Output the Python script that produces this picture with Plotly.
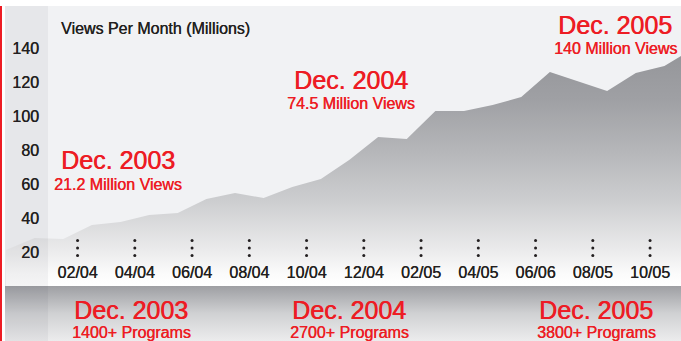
import plotly.graph_objects as go

W, H = 681, 341

# ---------------- data ----------------
months = ["2003-12", "2004-01", "2004-02", "2004-03", "2004-04", "2004-05", "2004-06",
          "2004-07", "2004-08", "2004-09", "2004-10", "2004-11", "2004-12",
          "2005-01", "2005-02", "2005-03", "2005-04", "2005-05", "2005-06",
          "2005-07", "2005-08", "2005-09", "2005-10", "2005-11", "2005-12"]
views = [21.2, 28.3, 27.7, 36.0, 37.8, 41.9, 43.1, 51.3, 54.9, 51.9, 58.4, 63.1, 74.5,
         87.9, 86.7, 103.2, 103.2, 106.8, 111.5, 126.3, 120.6, 115.0, 125.7, 129.8, 140.0]
tick_labels = ["02/04", "04/04", "06/04", "08/04", "10/04", "12/04",
               "02/05", "04/05", "06/06", "08/05", "10/05"]
y_ticks = [20, 40, 60, 80, 100, 120, 140]
view_callouts = [("Dec. 2003", "21.2 Million Views"),
                 ("Dec. 2004", "74.5 Million Views"),
                 ("Dec. 2005", "140 Million Views")]
program_callouts = [("Dec. 2003", "1400+ Programs"),
                    ("Dec. 2004", "2700+ Programs"),
                    ("Dec. 2005", "3800+ Programs")]
y_title = "Views Per Month (Millions)"

# ---------------- style / geometry ----------------
RED = "#ed1c24"
DARK = "#231f20"
FONT = "Liberation Sans"
PX_PER_MONTH = 28.625
ORIGIN_PX = 6.0          # pixel x of first month
PX_PER_UNIT = 1.695
PLOT_TOP, PLOT_BOTTOM, LEFT = 6, 286, 5
dot_levels = [26.8, 22.4, 18.0]

x = list(range(len(months)))
tick_pos = [2.5 + 2 * i for i in range(len(tick_labels))]


def px(v):
    return v / W


def py(v):
    return (H - v) / H


def font(size, color, heavy=0.4):
    return dict(family=FONT, size=size, color=color,
                shadow=f"{heavy}px 0 0 {color}")


fig = go.Figure()

# bottom band gradient
fig.add_trace(go.Scatter(
    x=[0, 1, 1, 0, 0], y=[0, 0, 1, 1, 0], fill="toself", mode="lines",
    line=dict(width=0, color="rgba(0,0,0,0)"),
    fillgradient=dict(type="vertical", start=0, stop=1,
                      colorscale=[[0, "#ececed"], [0.5, "#d0d1d3"], [1, "#9e9fa3"]]),
    xaxis="x2", yaxis="y2", hoverinfo="skip", showlegend=False))

# main area
fig.add_trace(go.Scatter(
    x=x, y=views, fill="tozeroy", mode="lines",
    line=dict(width=0, color="rgba(0,0,0,0)"),
    fillgradient=dict(type="vertical", start=0, stop=140,
                      colorscale=[[0, "#ffffff"], [0.05, "#fbfbfb"], [0.143, "#ececed"],
                                  [0.357, "#cdced0"], [0.571, "#b5b6b9"],
                                  [0.786, "#9fa0a4"], [1, "#949599"]]),
    hoverinfo="skip", showlegend=False))

# dotted tick markers
fig.add_trace(go.Scatter(
    x=[p for p in tick_pos for _ in dot_levels],
    y=[d for _ in tick_pos for d in dot_levels],
    mode="markers", marker=dict(size=3, color=DARK),
    hoverinfo="skip", showlegend=False))

annotations = [dict(text=y_title, x=px(59), y=py(28.5), xref="paper", yref="paper",
                    xanchor="left", yanchor="middle", showarrow=False,
                    font=font(16, DARK, 0.3))]

top_pos = [(118, 160, 184), (350.5, 80, 104), (615, 24.5, 49)]
for (big, small), (cx, y1, y2) in zip(view_callouts, top_pos):
    annotations.append(dict(text=big, x=px(cx), y=py(y1), xref="paper", yref="paper",
                            xanchor="center", yanchor="middle", showarrow=False,
                            font=font(25, RED, 0.6)))
    annotations.append(dict(text=small, x=px(cx), y=py(y2), xref="paper", yref="paper",
                            xanchor="center", yanchor="middle", showarrow=False,
                            font=font(16, RED, 0.4)))

bot_pos = [(131, 309.5, 332), (349, 309.5, 332), (596, 309.5, 332)]
for (big, small), (cx, y1, y2) in zip(program_callouts, bot_pos):
    annotations.append(dict(text=big, x=px(cx), y=py(y1), xref="paper", yref="paper",
                            xanchor="center", yanchor="middle", showarrow=False,
                            font=font(25, RED, 0.6)))
    annotations.append(dict(text=small, x=px(cx), y=py(y2), xref="paper", yref="paper",
                            xanchor="center", yanchor="middle", showarrow=False,
                            font=font(16, RED, 0.4)))

shapes = [
    dict(type="rect", xref="paper", yref="paper", x0=0, x1=px(2), y0=0, y1=py(PLOT_TOP),
         fillcolor=RED, line=dict(width=0), layer="above"),
    dict(type="rect", xref="paper", yref="paper", x0=px(LEFT), x1=px(48), y0=0,
         y1=py(PLOT_TOP), fillcolor="rgba(30,30,50,0.05)", line=dict(width=0),
         layer="above"),
]

fig.update_layout(
    width=W, height=H, margin=dict(l=0, r=0, t=0, b=0),
    paper_bgcolor="white", plot_bgcolor="#f1f2f4",
    showlegend=False, annotations=annotations, shapes=shapes,
    font=dict(family=FONT, color=DARK),
    xaxis=dict(domain=[px(LEFT), 1],
               range=[(LEFT - ORIGIN_PX) / PX_PER_MONTH, (W - ORIGIN_PX) / PX_PER_MONTH],
               tickvals=tick_pos, ticktext=tick_labels, ticks="",
               showgrid=False, zeroline=False, showline=False,
               anchor="free", position=py(261), automargin=False,
               tickfont=font(16, DARK, 0.3)),
    yaxis=dict(domain=[py(PLOT_BOTTOM), py(PLOT_TOP)],
               range=[0, (PLOT_BOTTOM - PLOT_TOP) / PX_PER_UNIT],
               tickvals=y_ticks, ticks="", showgrid=False, zeroline=False,
               showline=False, anchor="free", position=px(39), automargin=False,
               tickfont=font(16, DARK, 0.3)),
    xaxis2=dict(domain=[px(LEFT), 1], range=[0, 1], visible=False, anchor="y2"),
    yaxis2=dict(domain=[0, py(PLOT_BOTTOM)], range=[0, 1], visible=False, anchor="x2"),
)

fig.write_html("out.html")
